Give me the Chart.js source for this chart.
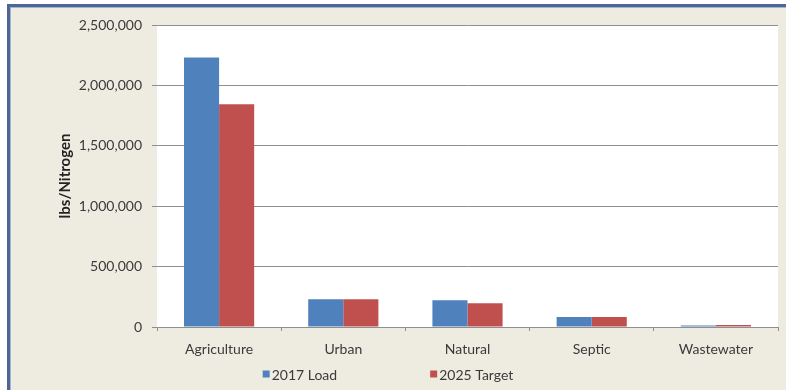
<!DOCTYPE html>
<html>
<head>
<meta charset="utf-8">
<script src="https://cdn.jsdelivr.net/npm/chart.js@4"></script>
<style>
  html, body { margin: 0; padding: 0; background: #fff; }
  #wrap { position: relative; width: 786px; height: 390px; overflow: hidden; }
  #frame {
    position: absolute; left: 7px; top: 4px; width: 800px; height: 383px;
    background: #eeece1;
    border-left: 3px solid #4d6792; border-top: 3px solid #4d6792; border-bottom: 2px solid #5a76a0;
    box-shadow: inset 1px 1px 0 #9db6d8;
  }
  #chart { position: absolute; left: 0; top: 0; }
</style>
</head>
<body>
<div id="wrap">
  <div id="frame"></div>
  <canvas id="chart" width="786" height="390"></canvas>
</div>
<script>
const categorias = ['Agriculture', 'Urban', 'Natural', 'Septic', 'Wastewater'];
const carga2017 = [2230000, 229000, 221000, 83000, 12000];
const meta2025 = [1843000, 229000, 196000, 83000, 16000];
const etiquetasSerie = ['2017 Load', '2025 Target'];
const ejeY = { min: 0, max: 2500000, paso: 500000, titulo: 'lbs/Nitrogen' };

const fuente = 'Lato, "Open Sans", sans-serif';
const gris = '#8f8f8f';

// fondo blanco solo en el área de trazado
const fondoArea = {
    id: 'fondoArea',
    beforeDraw(chart) {
        const { ctx, chartArea: a } = chart;
        ctx.save();
        ctx.fillStyle = '#ffffff';
        ctx.fillRect(a.left, a.top, a.right - a.left, a.bottom - a.top);
        ctx.restore();
    }
};

// leyenda inferior con las series separadas
const leyenda = {
    id: 'leyenda',
    afterDraw(chart) {
        const ctx = chart.ctx;
        const sets = chart.data.datasets;
        ctx.save();
        ctx.font = '14px ' + fuente;
        ctx.textBaseline = 'middle';
        const caja = 7, sep = 2, hueco = 93, y = 374;
        const anchos = sets.map(d => caja + sep + ctx.measureText(d.label).width);
        const total = anchos.reduce((s, w) => s + w, 0) + hueco * (sets.length - 1);
        let x = 388 - total / 2;
        sets.forEach((d, i) => {
            ctx.fillStyle = d.backgroundColor;
            ctx.fillRect(x, y - 3.5, caja, caja);
            ctx.fillStyle = '#3a3a3a';
            ctx.fillText(d.label, x + caja + sep, y + 1);
            x += anchos[i] + hueco;
        });
        ctx.restore();
    }
};

new Chart(document.getElementById('chart'), {
    type: 'bar',
    data: {
        labels: categorias,
        datasets: [
            { label: etiquetasSerie[0], data: carga2017, backgroundColor: '#4f81bd' },
            { label: etiquetasSerie[1], data: meta2025, backgroundColor: '#c0504d' }
        ]
    },
    options: {
        responsive: false,
        animation: false,
        layout: { padding: { left: 0, right: 8, top: 25, bottom: 33 } },
        datasets: { bar: { barPercentage: 1, categoryPercentage: 0.565 } },
        plugins: {
            legend: { display: false },
            tooltip: { enabled: false }
        },
        scales: {
            x: {
                grid: { drawOnChartArea: false, drawTicks: true, tickLength: 4, color: gris },
                border: { display: true, color: gris, width: 1 },
                ticks: { color: '#3a3a3a', padding: 10, font: { family: fuente, size: 14 } },
                afterFit: s => { s.height = 30; }
            },
            y: {
                min: ejeY.min,
                max: ejeY.max,
                grid: { color: gris, lineWidth: 1, tickLength: 5 },
                border: { display: false },
                ticks: {
                    stepSize: ejeY.paso,
                    color: '#3a3a3a',
                    padding: 10,
                    font: { family: fuente, size: 14 },
                    callback: v => v.toLocaleString('en-US')
                },
                title: {
                    display: true,
                    text: ejeY.titulo,
                    color: '#222',
                    padding: { top: 56, bottom: 0 },
                    font: { family: fuente, size: 15, weight: 'bold' }
                },
                afterFit: s => { s.width = 157; }
            }
        }
    },
    plugins: [fondoArea, leyenda]
});
</script>
</body>
</html>
